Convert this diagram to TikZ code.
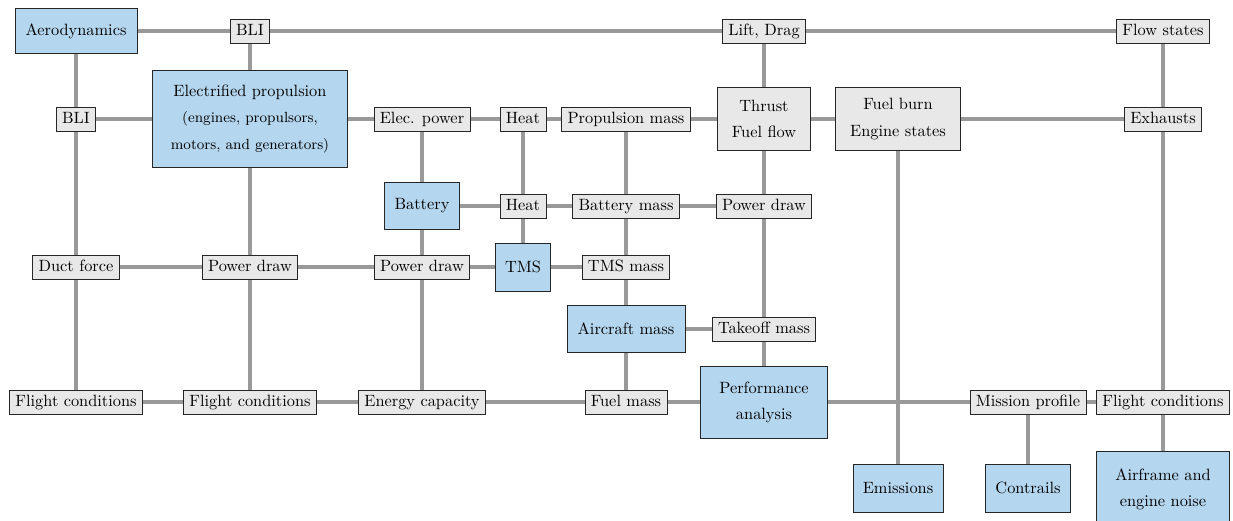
\documentclass[tikz,border=0pt]{standalone}
\usetikzlibrary{backgrounds}
\definecolor{blockblue}{RGB}{180,214,238}
\definecolor{datagray}{RGB}{232,232,232}
\definecolor{linkgray}{RGB}{153,153,153}
\begin{document}
\begin{tikzpicture}[x=0.6116pt,y=-0.6116pt,
  box/.style={draw=black!85, line width=0.5pt, align=center, font=\normalsize},
  block/.style={box, fill=blockblue},
  datum/.style={box, fill=datagray, inner xsep=3.6pt, inner ysep=2.8pt, text height=7pt, text depth=2pt},
  datumbig/.style={box, fill=datagray},
  bsize/.style 2 args={minimum width={#1*0.6116pt}, minimum height={#2*0.6116pt}},
  link/.style={draw=linkgray, line width=3pt}]
\useasboundingbox (0,0) rectangle (1233,521);

% row 1
\node[block,bsize={122}{45}] (aero) at (76,31) {Aerodynamics};
\node[datum] (bliA) at (250,31) {BLI};
\node[datum] (lift) at (764,31) {Lift, Drag};
\node[datum] (flow) at (1163,31) {Flow states};

% row 2
\node[datum] (bliB) at (76,119) {BLI};
\node[block,bsize={195}{97}] (prop) at (250,119) {Electrified propulsion\\[4pt]{\small (engines, propulsors,}\\[4pt]{\small motors, and generators)}};
\node[datum] (elec) at (422,119) {Elec. power};
\node[datum] (heatA) at (523,119) {Heat};
\node[datum] (pmass) at (626,119) {Propulsion mass};
\node[datumbig,bsize={93}{63}] (thrust) at (764,119) {Thrust\\[4pt]Fuel flow};
\node[datumbig,bsize={125}{63}] (fuelburn) at (898,119) {Fuel burn\\[4pt]Engine states};
\node[datum] (exh) at (1163,119) {Exhausts};

% row 3
\node[block,bsize={75}{47}] (batt) at (422,206) {Battery};
\node[datum] (heatB) at (523,206) {Heat};
\node[datum] (bmass) at (626,206) {Battery mass};
\node[datum] (pdrawC) at (764,206) {Power draw};

% row 4
\node[datum] (duct) at (76,267) {Duct force};
\node[datum] (pdrawA) at (250,267) {Power draw};
\node[datum] (pdrawB) at (422,267) {Power draw};
\node[block,bsize={55}{48}] (tms) at (523,267) {TMS};
\node[datum] (tmass) at (626,267) {TMS mass};

% row 5
\node[block,bsize={118}{47}] (acmass) at (626,329) {Aircraft mass};
\node[datum] (tomass) at (764,329) {Takeoff mass};

% row 6
\node[datum] (fcA) at (76,402) {Flight conditions};
\node[datum] (fcB) at (250,402) {Flight conditions};
\node[datum] (ecap) at (422,402) {Energy capacity};
\node[datum] (fmass) at (626,402) {Fuel mass};
\node[block,bsize={127}{72}] (perf) at (764,402) {Performance\\[4pt]analysis};
\node[datum] (mission) at (1028,402) {Mission profile};
\node[datum] (fcC) at (1163,402) {Flight conditions};

% row 7
\node[block,bsize={90}{48}] (emis) at (898,488) {Emissions};
\node[block,bsize={85}{48}] (contr) at (1028,488) {Contrails};
\node[block,bsize={133}{75}] (noise) at (1163,489) {Airframe and\\[4pt]engine noise};

\begin{scope}[on background layer]
  % horizontal data lines
  \draw[link] (aero.center) -- (bliA.center) -- (lift.center) -- (flow.center);
  \draw[link] (bliB.center) -- (prop.center) -- (elec.center) -- (heatA.center) -- (pmass.center) -- (thrust.center) -- (fuelburn.center) -- (exh.center);
  \draw[link] (batt.center) -- (heatB.center) -- (bmass.center) -- (pdrawC.center);
  \draw[link] (duct.center) -- (pdrawA.center) -- (pdrawB.center) -- (tms.center) -- (tmass.center);
  \draw[link] (acmass.center) -- (tomass.center);
  \draw[link] (fcA.center) -- (fcB.center) -- (ecap.center) -- (fmass.center) -- (perf.center) -- (mission.center) -- (fcC.center);
  % vertical data lines
  \draw[link] (aero.center) -- (bliB.center) -- (duct.center) -- (fcA.center);
  \draw[link] (bliA.center) -- (prop.center) -- (pdrawA.center) -- (fcB.center);
  \draw[link] (elec.center) -- (batt.center) -- (pdrawB.center) -- (ecap.center);
  \draw[link] (heatA.center) -- (heatB.center) -- (tms.center);
  \draw[link] (pmass.center) -- (bmass.center) -- (tmass.center) -- (acmass.center) -- (fmass.center);
  \draw[link] (lift.center) -- (thrust.center) -- (pdrawC.center) -- (tomass.center) -- (perf.center);
  \draw[link] (fuelburn.center) -- (emis.center);
  \draw[link] (mission.center) -- (contr.center);
  \draw[link] (flow.center) -- (exh.center) -- (fcC.center) -- (noise.center);
\end{scope}
\end{tikzpicture}
\end{document}
